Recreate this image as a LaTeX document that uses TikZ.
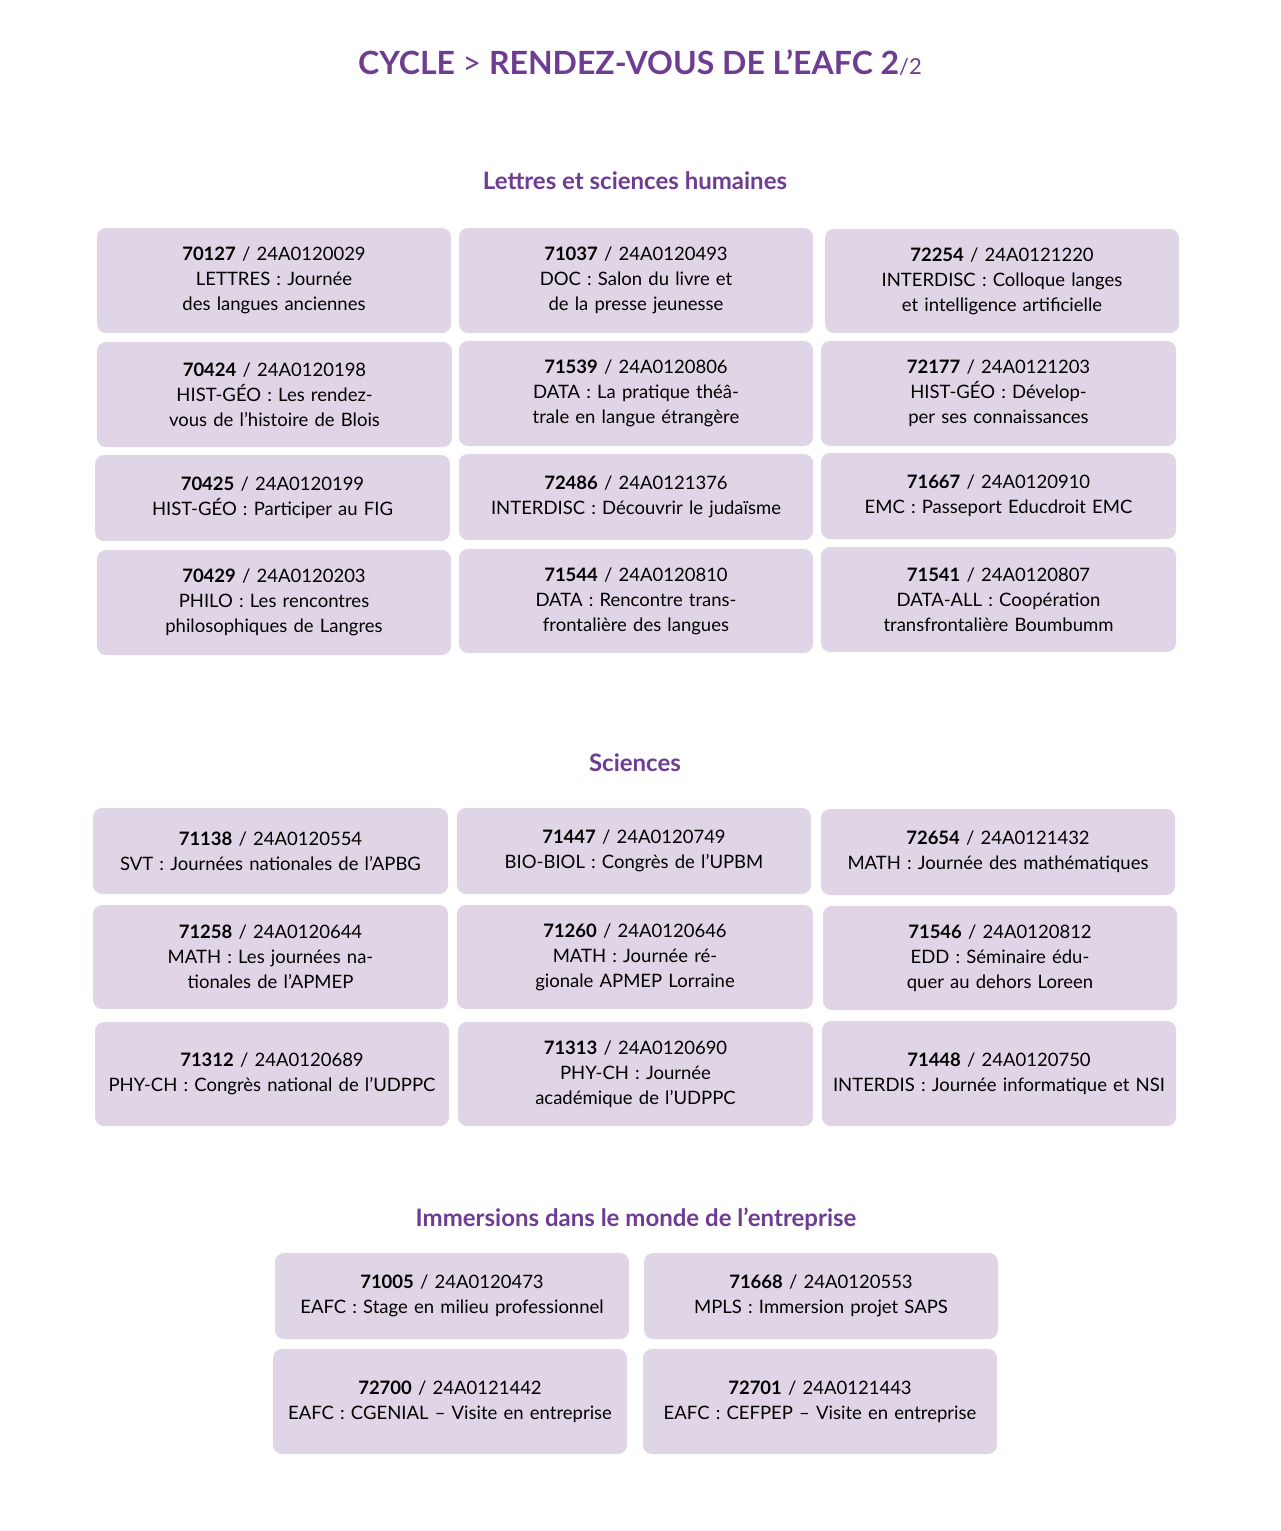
\documentclass[tikz,border=0pt]{standalone}
\usepackage{fontspec}
\setmainfont{Lato}
\definecolor{boxc}{HTML}{E0D5E6}
\definecolor{purp}{HTML}{6E3D92}
\tikzset{bx/.style={fill=boxc,draw=none,rounded corners=9pt},
 bt/.style={align=center,font=\fontsize{18.5}{25}\selectfont,text=black,inner sep=0pt},
 hd/.style={font=\fontsize{24}{28}\selectfont\bfseries,text=purp}}
\newcommand{\bxx}[8]{%
 \fill[bx] (#1,#2) rectangle (#3,#4);
 \node[bt,text width={(#3-#1-12)*1pt}] (#5) at ({(#1+#3)/2},{(#2+#4)/2}) {#6};}
\begin{document}
\begin{tikzpicture}[x=1pt,y=-1pt]
\useasboundingbox (0,0) rectangle (1280,1531);
\node[font=\fontsize{32}{36}\selectfont\bfseries,text=purp] (title) at (640,63) {CYCLE {\mdseries>} RENDEZ-VOUS DE L'EAFC 2{\mdseries\fontsize{22}{26}\selectfont/2}};
\node[hd] (h1) at (635,181) {Lettres et sciences humaines};
\node[hd] (h2) at (635,763) {Sciences};
\node[hd] (h3) at (636,1219) {Immersions dans le monde de l'entreprise};
\bxx{97}{228}{451}{333}{a1}{\textbf{70127} / 24A0120029\\LETTRES : Journée des langues anciennes}{}{}
\bxx{459}{228}{813}{333}{a2}{\textbf{71037} / 24A0120493\\DOC : Salon du livre et de la presse jeunesse}{}{}
\bxx{825}{229}{1179}{333}{a3}{\textbf{72254} / 24A0121220\\INTERDISC : Colloque langes et intelligence artificielle}{}{}
\bxx{97}{342}{452}{447}{b1}{\textbf{70424} / 24A0120198\\HIST-GÉO : Les rendez-vous de l'histoire de Blois}{}{}
\bxx{459}{341}{813}{446}{b2}{\textbf{71539} / 24A0120806\\DATA : La pratique théâtrale en langue étrangère}{}{}
\bxx{821}{341}{1176}{446}{b3}{\textbf{72177} / 24A0121203\\HIST-GÉO : Développer ses connaissances}{}{}
\bxx{95}{455}{450}{541}{c1}{\textbf{70425} / 24A0120199\\HIST-GÉO : Participer au FIG}{}{}
\bxx{459}{454}{813}{540}{c2}{\textbf{72486} / 24A0121376\\INTERDISC : Découvrir le judaïsme}{}{}
\bxx{821}{453}{1176}{539}{c3}{\textbf{71667} / 24A0120910\\EMC : Passeport Educdroit EMC}{}{}
\bxx{97}{550}{451}{655}{d1}{\textbf{70429} / 24A0120203\\PHILO : Les rencontres philosophiques de Langres}{}{}
\bxx{459}{549}{813}{653}{d2}{\textbf{71544} / 24A0120810\\DATA : Rencontre transfrontalière des langues}{}{}
\bxx{821}{547}{1176}{652}{d3}{\textbf{71541} / 24A0120807\\DATA-ALL : Coopération transfrontalière Boumbumm}{}{}
\bxx{93}{808}{448}{894}{e1}{\textbf{71138} / 24A0120554\\SVT : Journées nationales de l'APBG}{}{}
\bxx{457}{808}{811}{894}{e2}{\textbf{71447} / 24A0120749\\BIO-BIOL : Congrès de l'UPBM}{}{}
\bxx{821}{809}{1175}{895}{e3}{\textbf{72654} / 24A0121432\\MATH : Journée des mathématiques}{}{}
\bxx{93}{905}{448}{1009}{f1}{\textbf{71258} / 24A0120644\\MATH : Les journées nationales de l'APMEP}{}{}
\bxx{457}{905}{813}{1009}{f2}{\textbf{71260} / 24A0120646\\MATH : Journée régionale APMEP Lorraine}{}{}
\bxx{823}{906}{1177}{1010}{f3}{\textbf{71546} / 24A0120812\\EDD : Séminaire éduquer au dehors Loreen}{}{}
\bxx{95}{1022}{449}{1126}{g1}{\textbf{71312} / 24A0120689\\PHY-CH : Congrès national de l'UDPPC}{}{}
\bxx{458}{1022}{813}{1126}{g2}{\textbf{71313} / 24A0120690\\PHY-CH : Journée académique de l'UDPPC}{}{}
\bxx{822}{1021}{1176}{1126}{g3}{\textbf{71448} / 24A0120750\\INTERDIS : Journée informatique et NSI}{}{}
\bxx{275}{1253}{629}{1339}{i1}{\textbf{71005} / 24A0120473\\EAFC : Stage en milieu professionnel}{}{}
\bxx{644}{1253}{998}{1339}{i2}{\textbf{71668} / 24A0120553\\MPLS : Immersion projet SAPS}{}{}
\bxx{273}{1349}{627}{1454}{j1}{\textbf{72700} / 24A0121442\\EAFC : CGENIAL – Visite en entreprise}{}{}
\bxx{643}{1349}{997}{1454}{j2}{\textbf{72701} / 24A0121443\\EAFC : CEFPEP – Visite en entreprise}{}{}
\end{tikzpicture}
\end{document}
